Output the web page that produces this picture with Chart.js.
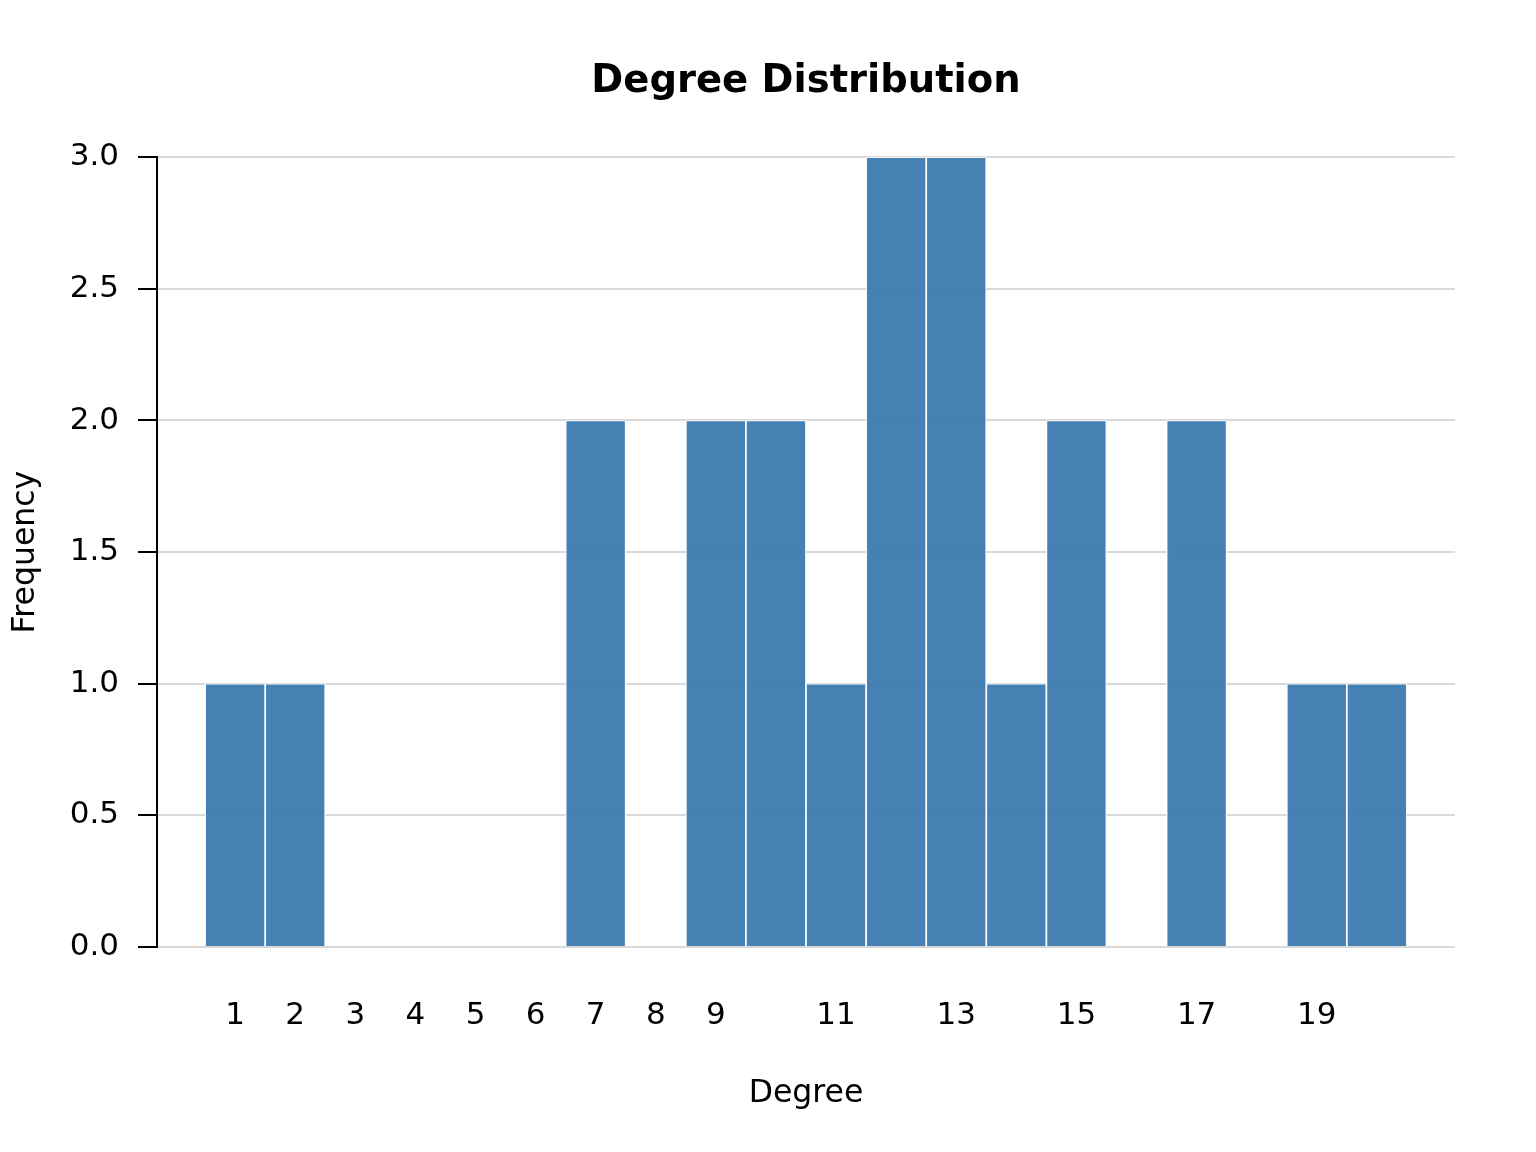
<!DOCTYPE html>
<html>
<head>
<meta charset="utf-8">
<title>Degree Distribution</title>
<script src="https://cdn.jsdelivr.net/npm/chart.js@4.4.1/dist/chart.umd.min.js"></script>
<style>
  html,body{margin:0;padding:0;background:#fff;}
  canvas{display:block;}
</style>
</head>
<body>
<canvas id="chart" width="1536" height="1152"></canvas>
<script>
/* data */
const degrees   = [1,2,3,4,5,6,7,8,9,10,11,12,13,14,15,16,17,18,19,20];
const frequency = [1,1,0,0,0,0,2,0,2,2,1,3,3,1,2,0,2,0,1,1];
const xTicks    = [1,2,3,4,5,6,7,8,9,11,13,15,17,19];
const yTicks    = [0,0.5,1,1.5,2,2.5,3];

const FONT='DejaVu Sans';
const BAR='rgba(60,122,176,0.95)';

const ctx=document.getElementById('chart').getContext('2d');
new Chart(ctx,{
  type:'bar',
  data:{
    datasets:[{
      data:degrees.map((d,i)=>({x:d,y:frequency[i]})),
      backgroundColor:c=>c.raw&&c.raw.y?BAR:'rgba(0,0,0,0)',
      borderColor:'#ffffff',
      borderWidth:c=>c.raw&&c.raw.y?1.2:0,
      borderSkipped:'start',
      barPercentage:1,
      categoryPercentage:1
    }]
  },
  options:{
    responsive:false,
    animation:false,
    devicePixelRatio:1,
    layout:{padding:{top:0,right:81,bottom:0,left:0}},
    plugins:{
      legend:{display:false},
      tooltip:{enabled:false},
      title:{display:true,fullSize:false,text:'Degree Distribution',color:'#000',
        font:{family:FONT,size:38.5,weight:'bold',lineHeight:1.2},
        padding:{top:59,bottom:52}}
    },
    scales:{
      x:{
        type:'linear',min:-0.3,max:21.3,
        offset:false,
        grid:{display:false},
        border:{display:false},
        afterBuildTicks:s=>{s.ticks=xTicks.map(v=>({value:v}));},
        afterFit:s=>{s.height=205;},
        ticks:{autoSkip:false,maxRotation:0,color:'#000',padding:42,
          font:{family:FONT,size:31}},
        title:{display:true,text:'Degree',color:'#000',
          font:{family:FONT,size:31.5,lineHeight:1.2},
          padding:{top:0,bottom:39}}
      },
      y:{
        min:0,max:3,
        afterBuildTicks:s=>{s.ticks=yTicks.map(v=>({value:v}));},
        afterFit:s=>{s.width=157;},
        grid:{color:'#d9d9d9',lineWidth:2,tickColor:'#000',tickLength:19,drawTicks:true},
        border:{display:true,color:'#000',width:2},
        ticks:{color:'#000',padding:19,callback:v=>Number(v).toFixed(1),
          font:{family:FONT,size:31}},
        title:{display:true,text:'Frequency',color:'#000',
          font:{family:FONT,size:31.5,lineHeight:1.2},
          padding:{top:7,bottom:0}}
      }
    }
  }
});
</script>
</body>
</html>
